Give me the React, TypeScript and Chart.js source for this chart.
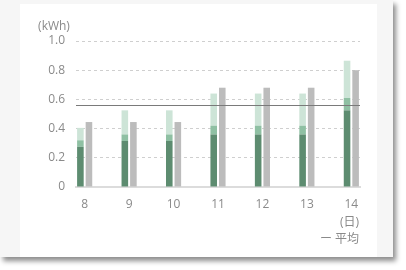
import React, { useEffect, useRef } from "react";
import { Chart, registerables } from "chart.js";

Chart.register(...registerables);

const days = ["8", "9", "10", "11", "12", "13", "14"];
// stacked parts (kWh)
const darkPart = [0.275, 0.315, 0.315, 0.36, 0.36, 0.36, 0.525];
const midPart = [0.045, 0.045, 0.045, 0.06, 0.06, 0.06, 0.085];
const lightPart = [0.085, 0.165, 0.165, 0.22, 0.22, 0.22, 0.255];
const grayValues = [0.445, 0.445, 0.445, 0.68, 0.68, 0.68, 0.8];
const averageValue = 0.56;
const unitLabel = "(kWh)";
const dayUnitLabel = "(日)";
const averageLabel = "ー 平均";

const FONT = '"Open Sans", "Noto Sans CJK JP", sans-serif';
const TEXT = "#8a8a8a";

export default function App() {
  const ref = useRef<HTMLCanvasElement | null>(null);

  useEffect(() => {
    if (!ref.current) return;
    const xs = days.map((_, i) => i);
    const mk = (arr: number[]) => arr.map((v, i) => ({ x: xs[i], y: v }));

    const overlay = {
      id: "overlay",
      afterDatasetsDraw(chart: any) {
        const { ctx, chartArea, scales } = chart;
        const y = Math.round(scales.y.getPixelForValue(averageValue)) + 0.5;
        ctx.save();
        ctx.strokeStyle = "#7a7a7a";
        ctx.lineWidth = 1.2;
        ctx.beginPath();
        ctx.moveTo(chartArea.left, y);
        ctx.lineTo(chartArea.right, y);
        ctx.stroke();
        ctx.restore();
      },
      afterDraw(chart: any) {
        const { ctx, chartArea } = chart;
        ctx.save();
        ctx.fillStyle = TEXT;
        ctx.font = `12px ${FONT}`;
        ctx.textBaseline = "middle";
        ctx.textAlign = "right";
        ctx.fillText(dayUnitLabel, chartArea.right - 1, chartArea.bottom + 36);
        ctx.fillText(averageLabel, chartArea.right - 1, chartArea.bottom + 53);
        ctx.textAlign = "center";
        ctx.fillText(unitLabel, 34, 23);
        ctx.restore();
      },
    };

    const common = {
      categoryPercentage: 0.385,
      barPercentage: 0.77,
      borderWidth: 0,
    };

    const chart = new Chart(ref.current, {
      type: "bar",
      data: {
        datasets: [
          { ...common, label: "a", data: mk(darkPart), backgroundColor: "#5d8c70", stack: "g" },
          { ...common, label: "b", data: mk(midPart), backgroundColor: "#8fc0a3", stack: "g" },
          { ...common, label: "c", data: mk(lightPart), backgroundColor: "#cde4d7", stack: "g" },
          { ...common, label: "d", data: mk(grayValues), backgroundColor: "#bcbcbc", stack: "h" },
        ],
      } as any,
      options: {
        animation: false,
        responsive: false,
        layout: { padding: { top: 37, right: 17, bottom: 40, left: 0 } },
        plugins: { legend: { display: false }, tooltip: { enabled: false } },
        scales: {
          x: {
            type: "linear",
            offset: false,
            stacked: true,
            min: -0.195,
            max: 6.195,
            afterBuildTicks: (s: any) => {
              s.ticks = xs.map((v) => ({ value: v }));
            },
            afterFit: (s: any) => {
              s.height = 30;
            },
            grid: { display: false, drawTicks: false },
            border: { display: true, color: "#dcdcdc", width: 2 },
            ticks: {
              color: TEXT,
              font: { family: FONT, size: 12 },
              padding: 10,
              autoSkip: false,
              maxRotation: 0,
              callback: (v: any) => days[v] ?? "",
            },
          },
          y: {
            stacked: true,
            min: 0,
            max: 1.0,
            afterFit: (s: any) => {
              s.width = 56;
            },
            grid: {
              drawTicks: false,
              color: (c: any) => (c.tick && c.tick.value === 0 ? "rgba(0,0,0,0)" : "#cfcfcf"),
              lineWidth: 1,
            },
            border: { display: false, dash: [3, 3] },
            ticks: {
              stepSize: 0.2,
              color: TEXT,
              font: { family: FONT, size: 12 },
              padding: 11,
              callback: (v: any) => (Number(v) === 0 ? "0" : Number(v).toFixed(1)),
            },
          },
        },
      } as any,
      plugins: [overlay],
    });
    return () => chart.destroy();
  }, []);

  return (
    <div
      style={{
        position: "absolute",
        left: 0,
        top: 0,
        width: 393,
        height: 257,
        background: "#f6f6f6",
        boxShadow: "3px 4px 5px rgba(0,0,0,0.45)",
      }}
    >
      <div
        style={{
          position: "absolute",
          left: 20,
          top: 4,
          width: 357,
          height: 253,
          background: "#ffffff",
        }}
      >
        <canvas ref={ref} width={357} height={253} style={{ width: 357, height: 253, display: "block" }} />
      </div>
    </div>
  );
}
